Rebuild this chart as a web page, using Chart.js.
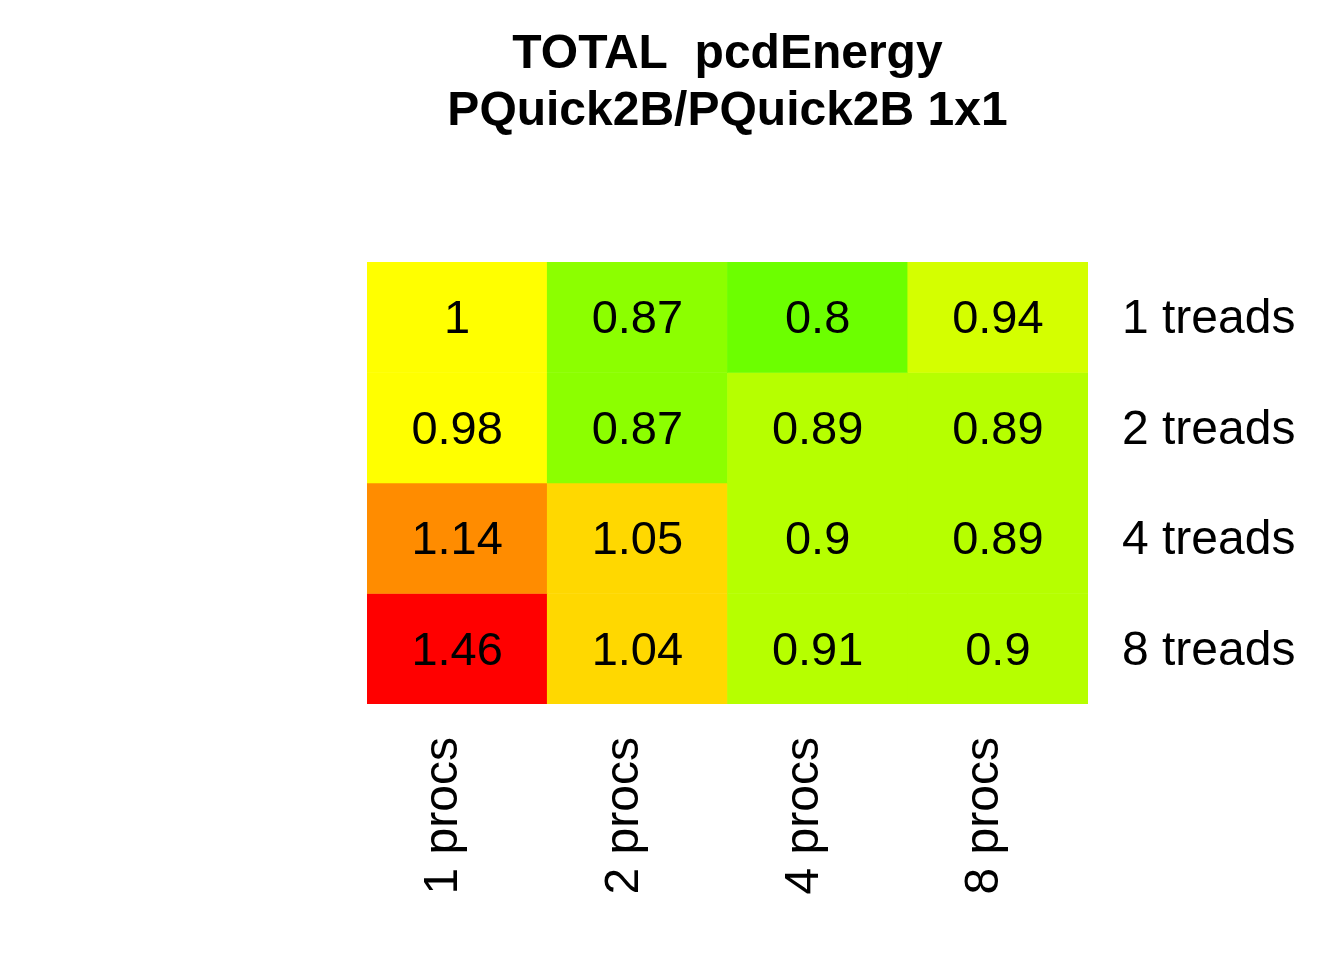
<!DOCTYPE html>
<html>
<head>
<meta charset="utf-8">
<script src="https://cdn.jsdelivr.net/npm/chart.js@4"></script>
<style>
  html, body { margin: 0; padding: 0; background: #ffffff; }
  canvas { display: block; }
</style>
</head>
<body>
<canvas id="c" width="1344" height="960" style="width:1344px;height:960px"></canvas>
<script>
// ---- data ----
const titleLines = ["TOTAL  pcdEnergy", "PQuick2B/PQuick2B 1x1"];
const colLabels = ["1 procs", "2 procs", "4 procs", "8 procs"];
const rowLabels = ["1 treads", "2 treads", "4 treads", "8 treads"];
const row1 = [1, 0.87, 0.8, 0.94];
const row2 = [0.98, 0.87, 0.89, 0.89];
const row4 = [1.14, 1.05, 0.9, 0.89];
const row8 = [1.46, 1.04, 0.91, 0.9];
const rows = [row1, row2, row4, row8];

// ---- colour scale (value -> colour) ----
const colorStops = [
  [1.30, "#FF0000"],
  [1.10, "#FF8C00"],
  [1.02, "#FFD800"],
  [0.97, "#FFFF00"],
  [0.92, "#D4FF00"],
  [0.88, "#B6FF00"],
  [0.85, "#8CFF00"],
  [-Infinity, "#6CFF00"]
];
function colorFor(v) {
  for (const [t, c] of colorStops) if (v >= t) return c;
  return colorStops[colorStops.length - 1][1];
}

const FONT = '"Liberation Sans", Arial, sans-serif';

const datasets = rows.map((vals, r) => ({
  label: rowLabels[r],
  data: vals.map(() => [r, r + 1]),
  backgroundColor: vals.map(v => colorFor(v)),
  borderWidth: 0,
  grouped: false,
  barPercentage: 1.0,
  categoryPercentage: 1.0
}));

const cellText = {
  id: 'cellText',
  afterDatasetsDraw(chart) {
    const { ctx, scales } = chart;
    ctx.save();
    ctx.fillStyle = '#000';
    ctx.font = '47px ' + FONT;
    ctx.textAlign = 'center';
    ctx.textBaseline = 'middle';
    rows.forEach((vals, r) => {
      vals.forEach((v, c) => {
        const x = scales.x.getPixelForValue(c);
        const y = scales.y.getPixelForValue(r + 0.5);
        ctx.fillText(String(v), x, y + 3);
      });
    });
    ctx.restore();
  }
};

const titlePlugin = {
  id: 'titleText',
  afterDraw(chart) {
    const { ctx, chartArea } = chart;
    const cx = (chartArea.left + chartArea.right) / 2;
    ctx.save();
    ctx.fillStyle = '#000';
    ctx.font = 'bold 48px ' + FONT;
    ctx.textAlign = 'center';
    ctx.textBaseline = 'alphabetic';
    ctx.fillText(titleLines[0], cx, 68);
    ctx.fillText(titleLines[1], cx, 125);
    ctx.restore();
  }
};

new Chart(document.getElementById('c'), {
  type: 'bar',
  data: { labels: colLabels, datasets },
  options: {
    responsive: false,
    animation: false,
    layout: { padding: { left: 367, top: 262, right: 0, bottom: 0 } },
    plugins: { legend: { display: false }, tooltip: { enabled: false }, title: { display: false } },
    scales: {
      x: {
        type: 'category',
        stacked: false,
        grid: { display: false, drawTicks: false },
        border: { display: false },
        ticks: {
          color: '#000',
          font: { size: 48, family: FONT },
          minRotation: 90,
          maxRotation: 90,
          autoSkip: false,
          padding: 33,
          labelOffset: -13
        },
        afterFit(scale) { scale.height = 256; }
      },
      y: {
        type: 'linear',
        position: 'right',
        min: 0,
        max: 4,
        reverse: true,
        grid: { display: false, drawTicks: false },
        border: { display: false },
        afterBuildTicks(scale) {
          scale.ticks = rowLabels.map((_, i) => ({ value: i + 0.5 }));
        },
        ticks: {
          color: '#000',
          font: { size: 48, family: FONT },
          autoSkip: false,
          padding: 34,
          labelOffset: 3,
          callback: (v) => rowLabels[Math.floor(v)]
        },
        afterFit(scale) { scale.width = 256; }
      }
    }
  },
  plugins: [cellText, titlePlugin]
});
</script>
</body>
</html>
